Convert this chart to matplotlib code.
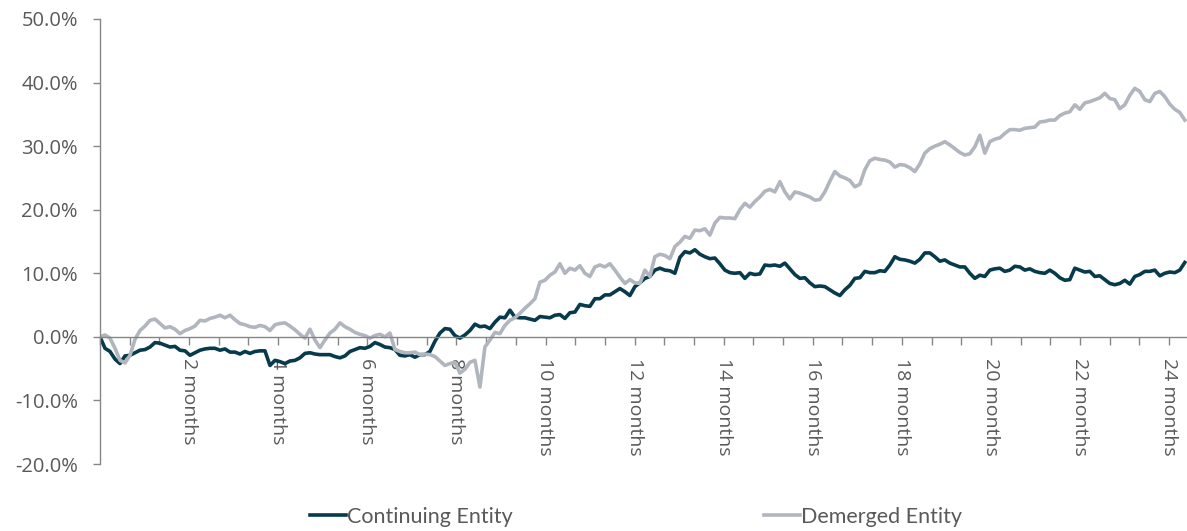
import numpy as np
import matplotlib
matplotlib.use("Agg")
import matplotlib.pyplot as plt
from matplotlib.ticker import FixedLocator, FuncFormatter

# Cumulative relative performance (%) sampled at regular intervals over ~24.35 months
continuing = [
    0.0, -1.8, -2.3, -3.5, -4.2, -3.0, -2.9, -2.5, -2.1, -2.0, -1.6, -0.9, -1.0, -1.3, -1.6, -1.5,
    -2.1, -2.2, -2.9, -2.5, -2.1, -1.9, -1.8, -1.8, -2.1, -1.9, -2.4, -2.4, -2.7, -2.3, -2.6, -2.3,
    -2.2, -2.2, -4.5, -3.7, -3.9,
    -4.2, -3.8, -3.7, -3.3, -2.6, -2.5, -2.7, -2.8, -2.8, -2.8, -3.1, -3.3, -3.0, -2.3, -2.0, -1.7,
    -1.8, -1.5, -0.9, -1.2, -1.6, -1.7, -2.0, -2.9, -3.0, -2.8, -3.2, -2.8, -2.8, -2.3, -0.7, 0.6,
    1.3, 1.2, 0.2, -0.2, 0.3,
    1.0, 2.0, 1.6, 1.7, 1.3, 2.3, 3.1, 3.0, 4.2, 3.1, 3.0, 3.0, 2.8, 2.6, 3.2, 3.1, 3.0, 3.4, 3.5,
    2.9, 3.8, 3.9, 5.1, 4.9, 4.8, 6.0, 6.0, 6.6, 6.6, 7.1, 7.6, 7.1, 6.5, 7.9, 8.5, 9.2, 9.5, 10.5,
    10.8, 10.5, 10.4, 10.0, 12.5, 13.4, 13.2, 13.7, 13.0, 12.6, 12.3, 12.4, 11.5, 10.5, 10.1, 10.0,
    10.1, 9.2, 10.0, 9.8, 9.9, 11.3, 11.2, 11.3, 11.1, 11.6, 10.7, 9.8, 9.2, 9.3, 8.5, 7.9, 8.0, 7.9,
    7.4, 6.9, 6.5, 7.4,
    8.1, 9.2, 9.3, 10.3, 10.1, 10.1, 10.4, 10.3, 11.3, 12.6, 12.2, 12.1, 11.9, 11.6, 12.2, 13.2,
    13.2, 12.6, 11.9, 12.1, 11.6, 11.3, 11.0, 11.0, 10.0, 9.2, 9.7, 9.5, 10.5, 10.7, 10.8, 10.3,
    10.5, 11.1,
    11.0, 10.5, 10.7, 10.3, 10.1, 10.0, 10.5, 10.0, 9.3, 8.9, 9.0, 10.8, 10.5, 10.2, 10.3, 9.5,
    9.6, 9.0, 8.4, 8.2, 8.4, 8.9, 8.3, 9.5, 9.8, 10.3, 10.3, 10.5, 9.6, 10.0, 10.2, 10.1, 10.5, 11.7,
]

demerged = [
    0.0, 0.3, -0.2, -1.8, -3.7, -4.1, -2.9, -0.4, 1.0, 1.7, 2.6, 2.8, 2.1, 1.4, 1.6, 1.2, 0.5, 1.0,
    1.3, 1.7, 2.6, 2.5, 2.9, 3.1, 3.4, 3.0, 3.4, 2.7, 2.1, 1.9, 1.6, 1.5, 1.8, 1.6, 1.0, 1.9, 2.1,
    2.2, 1.7, 1.1, 0.4, -0.2, 1.2, -0.5, -1.7, -0.5, 0.6, 1.2, 2.2, 1.6, 1.2, 0.7, 0.4, 0.2, -0.2,
    0.2, 0.4, 0.0, 0.6, -2.0, -2.3, -2.5, -2.5, -2.4, -2.8, -2.7, -2.8, -3.1, -3.8, -4.5, -4.2,
    -4.0, -5.7, -5.1,
    -4.0, -3.7, -7.9, -1.6, -0.5, 0.7, 0.5, 1.8, 2.6, 3.0, 3.7, 4.5, 5.2, 6.0, 8.6, 8.9, 9.7, 10.2,
    11.5, 10.0, 10.8, 10.5, 11.2, 10.0, 9.5, 11.0, 11.3, 11.0, 11.5, 10.5, 9.4, 8.4, 9.0, 8.5, 8.4,
    10.5, 9.5, 12.6,
    13.0, 12.8, 12.3, 14.2, 14.9, 15.8, 15.5, 16.8, 16.7, 17.0, 16.0, 17.9, 18.8, 18.7, 18.7, 18.6,
    20.0, 21.0, 20.4, 21.3, 22.0, 22.9, 23.2, 22.8, 24.4, 22.8, 21.7, 22.8, 22.6, 22.3, 22.0, 21.5,
    21.6, 22.8, 24.5, 26.0, 25.3, 25.0,
    24.6, 23.6, 24.0, 26.3, 27.7, 28.1, 27.9, 27.8, 27.5, 26.7, 27.1, 27.0, 26.6, 26.0, 27.2, 28.9,
    29.6, 30.0, 30.3, 30.7, 30.2, 29.6, 29.0, 28.6, 28.8, 29.9, 31.7, 28.9, 30.7, 31.1, 31.3, 32.0,
    32.6, 32.6,
    32.5, 32.8, 32.9, 33.0, 33.8, 33.9, 34.1, 34.1, 34.8, 35.2, 35.4, 36.5, 35.8, 36.8, 37.0, 37.3,
    37.6, 38.3, 37.5, 37.3, 35.9, 36.5, 38.0, 39.1, 38.6, 37.3, 37.0, 38.3, 38.6, 37.8, 36.6, 35.8,
    35.3, 34.1,
]

series_names = ["Continuing Entity", "Demerged Entity"]
series_colors = ["#073a4b", "#b1b5bd"]
month_labels = [2, 4, 6, 8, 10, 12, 14, 16, 18, 20, 22, 24]
y_ticks = [-20, -10, 0, 10, 20, 30, 40, 50]

span_months = 24.35
x = np.linspace(0, span_months, len(continuing))

W, H = 1187, 531
fig = plt.figure(figsize=(W / 100, H / 100), dpi=100)
ax = fig.add_axes([100 / W, (H - 464) / H, (W - 100) / W, 445 / H])

lines = []
for vals, name, col in zip([continuing, demerged], series_names, series_colors):
    ln, = ax.plot(x, vals, color=col, lw=2.6, solid_joinstyle="round", label=name)
    lines.append(ln)

ax.set_xlim(0, (W - 100) / 44.55)
ax.set_ylim(-20, 50)

axis_grey = "#868686"
text_grey = "#595959"
for s in ("top", "right"):
    ax.spines[s].set_visible(False)
ax.spines["bottom"].set_position(("data", 0))
for s in ("left", "bottom"):
    ax.spines[s].set_color(axis_grey)
    ax.spines[s].set_linewidth(1.0)

# y axis
ax.yaxis.set_major_locator(FixedLocator(y_ticks))
ax.yaxis.set_major_formatter(FuncFormatter(lambda v, p: f"{v:.1f}%"))
ax.tick_params(axis="y", direction="out", length=5, width=1.0, color=axis_grey,
               labelcolor=text_grey, labelsize=14.5, pad=11)
for lbl in ax.get_yticklabels():
    lbl.set_fontfamily("Open Sans")

# x axis: a tick every 2/3 month, labelled every 2 months
tick_pos = np.arange(0, 24.4 + 1e-9, 2 / 3)
ax.xaxis.set_major_locator(FixedLocator(tick_pos))
labels_map = {m: f"{m} months" for m in month_labels}
ax.set_xticklabels([labels_map.get(int(round(t)), "") if abs(t - round(t)) < 1e-6 else ""
                    for t in tick_pos])
ax.tick_params(axis="x", direction="out", length=6, width=1.0, color=axis_grey,
               labelcolor=text_grey, labelsize=14, pad=9)
for lbl in ax.get_xticklabels():
    lbl.set_rotation(270)
    lbl.set_fontfamily("Open Sans")
    lbl.set_va("top")
    lbl.set_ha("center")

leg = fig.legend(handles=lines, loc="center left",
                 bbox_to_anchor=(310 / W, (H - 517) / H), ncol=2, frameon=False,
                 prop={"family": "Lato", "size": 15.5}, handlelength=1.65,
                 handletextpad=0.05, columnspacing=11.7, borderpad=0, borderaxespad=0)
for t in leg.get_texts():
    t.set_color(text_grey)

fig.savefig("out.png", dpi=100)
